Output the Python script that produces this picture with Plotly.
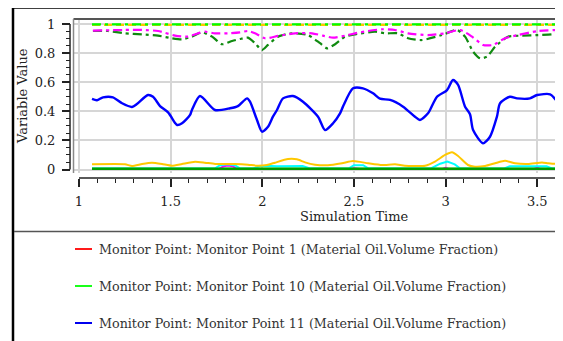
import plotly.graph_objects as go

# ---------------- data ----------------
t_blue = [1.071, 1.098, 1.131, 1.185, 1.235, 1.289, 1.316, 1.376, 1.404, 1.442, 1.486, 1.524, 1.535,
          1.562, 1.606, 1.616, 1.660, 1.742, 1.824, 1.867, 1.917, 1.933, 1.971, 1.998, 2.031, 2.058,
          2.080, 2.113, 2.167, 2.222, 2.304, 2.342, 2.386, 2.424, 2.440, 2.495, 2.549, 2.604, 2.642,
          2.697, 2.768, 2.833, 2.860, 2.904, 2.915, 2.953, 3.008, 3.040, 3.068, 3.106, 3.133, 3.150,
          3.204, 3.242, 3.280, 3.297, 3.351, 3.390, 3.460, 3.499, 3.570, 3.602, 3.619]
v_blue = [0.485, 0.476, 0.496, 0.496, 0.455, 0.430, 0.450, 0.512, 0.500, 0.436, 0.393, 0.320, 0.306,
          0.318, 0.375, 0.409, 0.505, 0.409, 0.421, 0.436, 0.489, 0.466, 0.340, 0.260, 0.294, 0.363,
          0.409, 0.489, 0.505, 0.466, 0.363, 0.271, 0.318, 0.386, 0.432, 0.558, 0.558, 0.524, 0.487,
          0.478, 0.432, 0.363, 0.340, 0.386, 0.409, 0.500, 0.546, 0.615, 0.581, 0.432, 0.380, 0.271,
          0.180, 0.225, 0.363, 0.455, 0.500, 0.489, 0.489, 0.512, 0.517, 0.478, 0.443]

t_mag_dd = [1.076, 1.251, 1.344, 1.431, 1.524, 1.595, 1.649, 1.687, 1.742, 1.813, 1.878, 1.922, 1.960,
            2.015, 2.086, 2.178, 2.271, 2.331, 2.386, 2.451, 2.506, 2.577, 2.653, 2.724, 2.795, 2.904,
            2.997, 3.079, 3.144, 3.204, 3.259, 3.324, 3.395, 3.504, 3.624]
v_mag_dd = [0.955, 0.959, 0.959, 0.952, 0.920, 0.913, 0.936, 0.947, 0.936, 0.936, 0.943, 0.952, 0.936,
            0.902, 0.918, 0.936, 0.936, 0.920, 0.906, 0.920, 0.936, 0.952, 0.964, 0.959, 0.936, 0.924,
            0.936, 0.959, 0.913, 0.856, 0.856, 0.902, 0.924, 0.952, 0.959]

t_dg_dd = [1.076, 1.158, 1.251, 1.344, 1.431, 1.507, 1.562, 1.616, 1.671, 1.726, 1.780, 1.835, 1.878,
           1.922, 1.960, 1.998, 2.031, 2.086, 2.162, 2.249, 2.315, 2.353, 2.397, 2.451, 2.506, 2.615,
           2.669, 2.740, 2.795, 2.871, 2.980, 3.062, 3.106, 3.150, 3.188, 3.226, 3.270, 3.340, 3.417,
           3.504, 3.580, 3.624]
v_dg_dd = [0.952, 0.952, 0.936, 0.929, 0.920, 0.902, 0.895, 0.913, 0.943, 0.913, 0.861, 0.883, 0.897,
           0.906, 0.868, 0.821, 0.856, 0.913, 0.936, 0.924, 0.868, 0.833, 0.861, 0.913, 0.929, 0.947,
           0.936, 0.936, 0.902, 0.890, 0.924, 0.959, 0.913, 0.810, 0.764, 0.776, 0.844, 0.913, 0.920,
           0.924, 0.929, 0.943]

t_gold = [1.071, 1.251, 1.289, 1.344, 1.398, 1.453, 1.507, 1.562, 1.633, 1.687, 1.742, 1.851, 1.922,
          1.971, 2.026, 2.069, 2.140, 2.189, 2.233, 2.288, 2.358, 2.435, 2.495, 2.577, 2.653, 2.724,
          2.778, 2.888, 2.942, 2.997, 3.035, 3.068, 3.122, 3.160, 3.215, 3.270, 3.324, 3.379, 3.450,
          3.526, 3.559, 3.624]
v_gold = [0.036, 0.036, 0.024, 0.038, 0.047, 0.038, 0.026, 0.038, 0.054, 0.047, 0.038, 0.038, 0.033,
          0.026, 0.031, 0.047, 0.072, 0.070, 0.049, 0.033, 0.029, 0.043, 0.058, 0.043, 0.031, 0.036,
          0.026, 0.026, 0.054, 0.100, 0.118, 0.093, 0.031, 0.019, 0.024, 0.043, 0.060, 0.043, 0.038,
          0.049, 0.043, 0.036]

t_cyan = [1.071, 1.740, 1.770, 1.810, 1.850, 1.880, 1.950, 1.990, 2.050, 2.080, 2.220, 2.260, 2.470,
          2.500, 2.550, 2.580, 2.920, 2.970, 3.010, 3.050, 3.080, 3.320, 3.350, 3.550, 3.580, 3.624]
v_cyan = [0.007, 0.007, 0.030, 0.036, 0.030, 0.007, 0.007, 0.024, 0.024, 0.022, 0.024, 0.007, 0.007,
          0.030, 0.030, 0.007, 0.007, 0.040, 0.054, 0.035, 0.007, 0.007, 0.022, 0.022, 0.007, 0.007]

t_mag = [1.071, 1.760, 1.790, 1.810, 1.840, 1.860, 2.480, 2.500, 2.530, 2.980, 3.000, 3.020, 3.480,
         3.500, 3.520, 3.624]
v_mag = [0.003, 0.003, 0.022, 0.028, 0.022, 0.003, 0.003, 0.009, 0.003, 0.003, 0.012, 0.003, 0.003,
         0.012, 0.003, 0.003]

t_flat = [1.071, 1.500, 2.000, 2.500, 3.000, 3.500, 3.624]
v_red = [0.004, 0.004, 0.004, 0.004, 0.004, 0.004, 0.004]
v_lime = [0.005, 0.005, 0.005, 0.005, 0.005, 0.005, 0.005]
v_dgreen = [0.0055, 0.0055, 0.0055, 0.0055, 0.0055, 0.0055, 0.0055]
v_lime_dd = [0.998, 0.998, 0.998, 0.998, 0.998, 0.998, 0.998]
v_gold_d = [0.994, 0.994, 0.994, 0.994, 0.994, 0.994, 0.994]

legend_labels = ["Monitor Point: Monitor Point 1 (Material Oil.Volume Fraction)",
                 "Monitor Point: Monitor Point 10 (Material Oil.Volume Fraction)",
                 "Monitor Point: Monitor Point 11 (Material Oil.Volume Fraction)"]
legend_colors = ["#ff1a1a", "#1aff1a", "#0000ee"]

x_ticks = [1, 1.5, 2, 2.5, 3, 3.5]
y_ticks = [0, 0.2, 0.4, 0.6, 0.8, 1]

# ---------------- geometry (reference pixel coords; page body has an 8px margin) ----------------
OFF = 8
W, H = 563 - OFF, 341 - OFF
REG_L, REG_R, REG_T, REG_B = 70, 560, 19, 178          # plotting region in reference px
ML, MR, MT, MB = REG_L - OFF, (W + OFF) - REG_R, REG_T - OFF, (H + OFF) - REG_B
PW, PH = REG_R - REG_L, REG_B - REG_T
PLOT_L, PLOT_R, PLOT_T, PLOT_B = 73.5, 560.0, 19.0, 173.0
XR = [0.970, 3.624]
YR = [-0.024, 1.0344]
FONT = "DejaVu Serif, Liberation Serif, serif"


def px(x):
    return (x - REG_L) / PW


def py(y):
    return (REG_B - y) / PH


def xpix(t):
    return PLOT_L + (t - XR[0]) / (XR[1] - XR[0]) * (PLOT_R - PLOT_L)


def ypix(v):
    return PLOT_B - (v - YR[0]) / (YR[1] - YR[0]) * (PLOT_B - PLOT_T)


fig = go.Figure()

dd = "9px,4px,3px,4px"


def add(t, v, color, width=2.0, dash="solid", name=None, smooth=0.0):
    line = dict(color=color, width=width, dash=dash)
    if smooth:
        line.update(shape="spline", smoothing=smooth)
    fig.add_trace(go.Scatter(x=t, y=v, mode="lines", name=name, showlegend=False,
                             line=line, hoverinfo="skip"))


add(t_flat, v_red, "#ff0000", name=legend_labels[0])
add(t_flat, v_lime, "#00ff00", name=legend_labels[1])
add(t_blue, v_blue, "#0000ff", 2.4, name=legend_labels[2], smooth=0.7)
add(t_mag, v_mag, "#ff00ff")
add(t_cyan, v_cyan, "#00ffff")
add(t_gold, v_gold, "#ffc800", smooth=0.5)
add(t_flat, v_dgreen, "#00a000", 2.5)
add(t_dg_dd, v_dg_dd, "#108a10", 2.2, dd, smooth=0.6)
add(t_mag_dd, v_mag_dd, "#ff00ff", 2.2, dd, smooth=0.6)
add(t_flat, v_gold_d, "#ffc800", 2.2, "8px,4px")
add(t_flat, v_lime_dd, "#00ff00", 2.2, dd)

shapes = []


def seg(x0, y0, x1, y1, color, width):
    shapes.append(dict(type="line", xref="paper", yref="paper",
                       x0=px(x0), y0=py(y0), x1=px(x1), y1=py(y1),
                       line=dict(color=color, width=width), layer="above"))


# outer frame
seg(13, 7.5, 559, 7.5, "#000000", 2.5)
seg(13, 7.5, 13, 345, "#000000", 2.5)
seg(558.5, 7.5, 558.5, 345, "#000000", 3.5)
# separator above legend
seg(14, 231.5, 557, 231.5, "#555555", 1.5)
# plot frame (top / left)
seg(73.5, 19, 557, 19, "#555555", 2)
seg(73.5, 19, 73.5, 173, "#8a8a8a", 1.5)
# axis lines
seg(xpix(x_ticks[0]), 178, 557, 178, "#222222", 1.5)
seg(70, ypix(y_ticks[-1]), 70, ypix(y_ticks[0]), "#222222", 1.5)

annotations = []
for i, (lab, col) in enumerate(zip(legend_labels, legend_colors)):
    yc = 249 + i * 37
    seg(75, yc, 92, yc, col, 2)
    annotations.append(dict(text=lab, x=px(97), y=py(yc), xref="paper", yref="paper",
                            xanchor="left", yanchor="middle", showarrow=False,
                            font=dict(family=FONT, size=12.7, color="#333333")))

annotations.append(dict(text="Simulation Time", x=px(354), y=py(216), xref="paper", yref="paper",
                        xanchor="center", yanchor="middle", showarrow=False,
                        font=dict(family=FONT, size=13, color="#222222")))
annotations.append(dict(text="Variable Value", x=px(22), y=py(96), xref="paper", yref="paper",
                        xanchor="center", yanchor="middle", showarrow=False, textangle=-90,
                        font=dict(family=FONT, size=13, color="#222222")))

fig.update_layout(
    width=W, height=H,
    margin=dict(l=ML, r=MR, t=MT, b=MB, pad=0),
    paper_bgcolor="white", plot_bgcolor="white",
    showlegend=False,
    shapes=shapes, annotations=annotations,
    font=dict(family=FONT, size=13, color="#222222"),
    xaxis=dict(domain=[px(PLOT_L), px(PLOT_R)], range=XR, anchor="free", position=0,
               showline=False, zeroline=False,
               tickmode="array", tickvals=x_ticks, ticks="outside", ticklen=8, tickwidth=1.5,
               tickcolor="#222222", ticklabelstandoff=3,
               showgrid=True, gridcolor="#d6d6d6", gridwidth=1.5,
               minor=dict(tickmode="linear", tick0=0, dtick=0.1, ticks="outside", ticklen=4,
                          tickwidth=1, tickcolor="#222222", showgrid=False),
               tickfont=dict(family=FONT, size=13, color="#222222")),
    yaxis=dict(domain=[py(PLOT_B), py(PLOT_T)], range=YR, anchor="free", position=0,
               showline=False, zeroline=False,
               tickmode="array", tickvals=y_ticks, ticks="outside", ticklen=8, tickwidth=1.5,
               tickcolor="#222222", ticklabelstandoff=4,
               showgrid=True, gridcolor="#d6d6d6", gridwidth=1.5,
               minor=dict(tickmode="linear", tick0=0, dtick=0.05, ticks="outside", ticklen=4,
                          tickwidth=1, tickcolor="#222222", showgrid=False),
               tickfont=dict(family=FONT, size=13, color="#222222")),
)

fig.write_html("out.html")
